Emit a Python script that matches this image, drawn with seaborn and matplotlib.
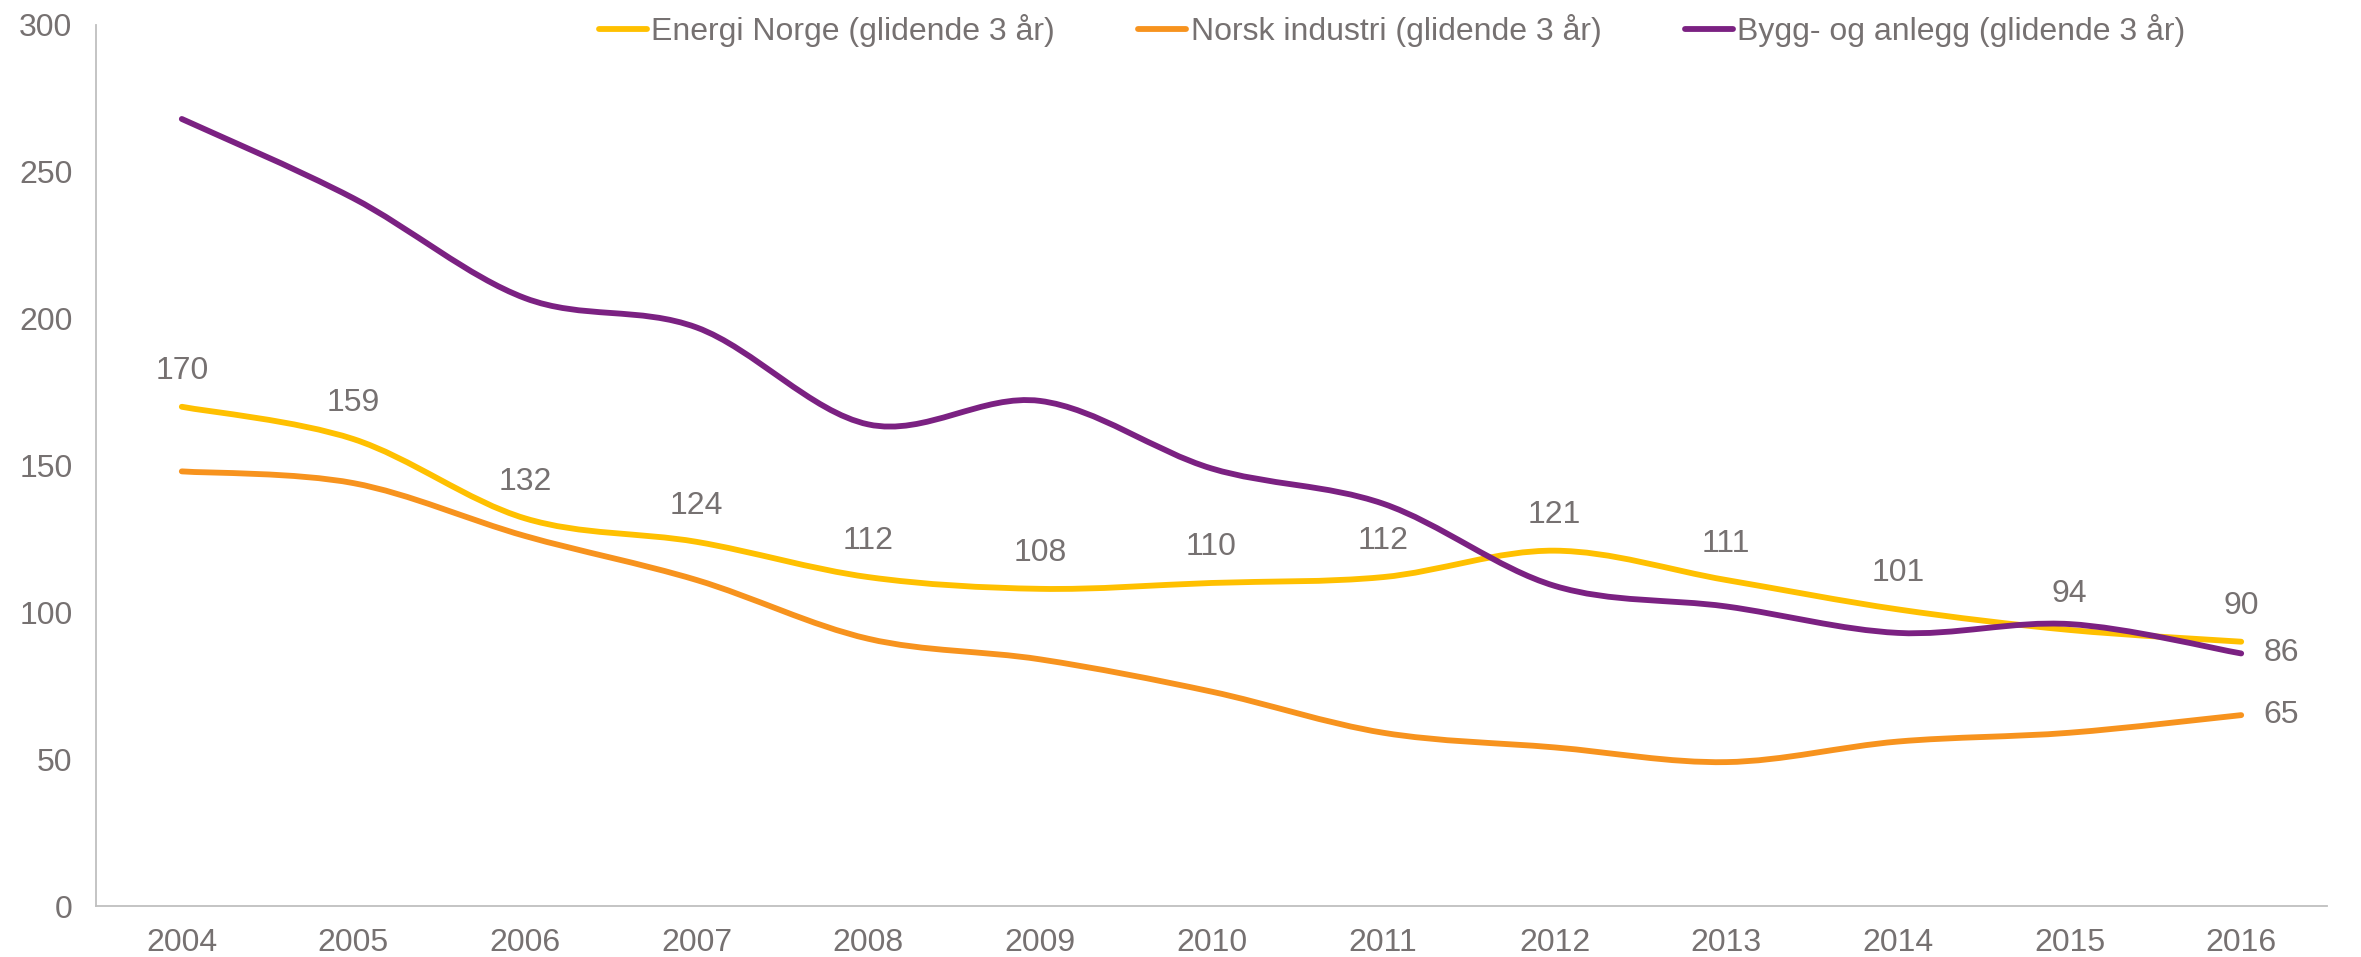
import matplotlib.pyplot as plt
import seaborn as sns
import numpy as np
from matplotlib.path import Path
from matplotlib.patches import PathPatch
from matplotlib.lines import Line2D

# data
years = ['2004', '2005', '2006', '2007', '2008', '2009', '2010',
         '2011', '2012', '2013', '2014', '2015', '2016']
energi_norge = [170, 159, 132, 124, 112, 108, 110, 112, 121, 111, 101, 94, 90]
norsk_industri = [148, 144, 126, 111, 91, 84, 73, 59, 54, 49, 56, 59, 65]
bygg_anlegg = [268, 241, 207, 197, 164, 172, 149, 137, 109, 102, 93, 96, 86]

series_names = ['Energi Norge (glidende 3 år)',
                'Norsk industri (glidende 3 år)',
                'Bygg- og anlegg (glidende 3 år)']
colors = ['#FFC000', '#F7931E', '#7B2182']
grey = '#767171'
fs = 23

sns.set_theme(style='white')
plt.rcParams['font.family'] = ['Liberation Sans', 'DejaVu Sans']


def smooth_path(values):
    # Excel-style smoothed line: cubic bezier segments through the data points
    pts = np.column_stack([np.arange(len(values)), values]).astype(float)
    verts = [pts[0]]
    codes = [Path.MOVETO]
    for i in range(len(pts) - 1):
        p0 = pts[i - 1] if i > 0 else pts[i]
        p3 = pts[i + 2] if i + 2 < len(pts) else pts[i + 1]
        c1 = pts[i] + (pts[i + 1] - p0) / 6
        c2 = pts[i + 1] - (p3 - pts[i]) / 6
        verts += [c1, c2, pts[i + 1]]
        codes += [Path.CURVE4] * 3
    return Path(verts, codes)


fig = plt.figure(figsize=(23.61, 9.57), dpi=100)
ax = fig.add_axes([96 / 2361, 1 - 906 / 957, (2327 - 96) / 2361, (906 - 25) / 957])

for vals, col in zip([energi_norge, norsk_industri, bygg_anlegg], colors):
    ax.add_patch(PathPatch(smooth_path(vals), fill=False, edgecolor=col,
                           lw=4.2, capstyle='round', joinstyle='round'))

ax.set_xlim(-0.5, len(years) - 0.5)
ax.set_ylim(0, 300)
ax.set_xticks(range(len(years)))
ax.set_xticklabels(years)
ax.set_yticks(range(0, 301, 50))

sns.despine(ax=ax)
for s in ['left', 'bottom']:
    ax.spines[s].set_color('#BFBFBF')
    ax.spines[s].set_linewidth(1.3)
ax.tick_params(axis='both', length=0, labelsize=fs, colors=grey)
ax.tick_params(axis='x', pad=16)
ax.tick_params(axis='y', pad=17)
ax.set_xlabel('')
ax.set_ylabel('')

# data labels
for i, v in enumerate(energi_norge):
    ax.annotate(str(v), (i, v), xytext=(0, 26), textcoords='offset points',
                ha='center', va='center', fontsize=fs, color=grey)
last = len(years) - 1
for vals in [norsk_industri, bygg_anlegg]:
    ax.annotate(str(vals[-1]), (last, vals[-1]), xytext=(16, 0),
                textcoords='offset points', ha='left', va='center',
                fontsize=fs, color=grey, annotation_clip=False)

handles = [Line2D([], [], color=c, lw=4.2, solid_capstyle='round') for c in colors]
ax.legend(handles, series_names, loc='center', bbox_to_anchor=(0.581, 0.994),
          ncol=3, frameon=False, fontsize=fs, handlelength=1.5,
          handletextpad=0.15, columnspacing=2.6, labelcolor=grey)

fig.savefig('out.png', dpi=100)
